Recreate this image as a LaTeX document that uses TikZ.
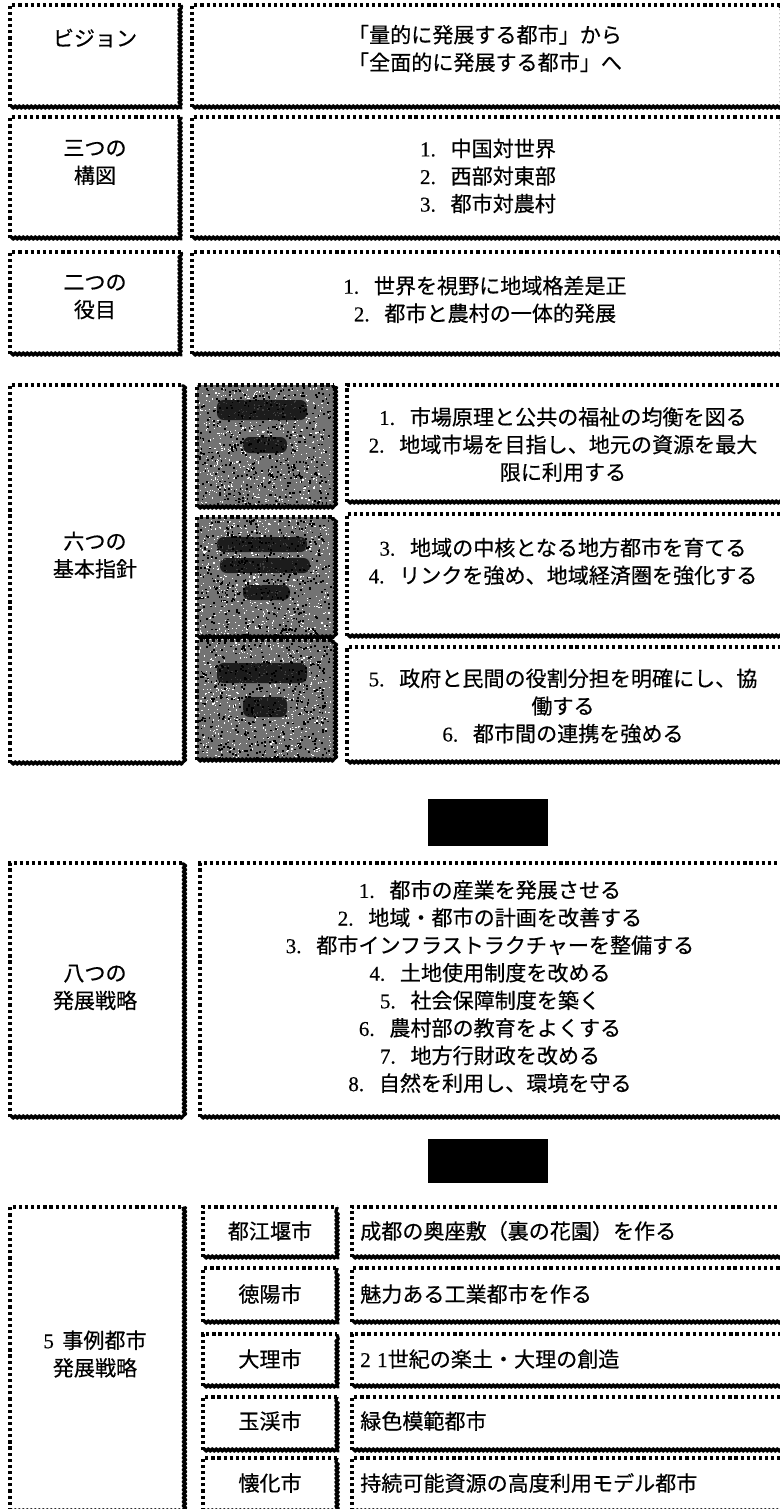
\documentclass[tikz,border=0pt]{standalone}
\usepackage{fontspec}
\setmainfont{Noto Sans CJK JP}[FakeBold=0.5]
\newfontfamily\tnr{Liberation Serif}[FakeBold=0.3]
\usetikzlibrary{fit,decorations.pathmorphing}
\newcommand\nm[1]{{\tnr #1}\hspace{0.7em}}
\tikzset{
 area/.style={inner sep=0pt, outer sep=0pt},
 dotedge/.style={line width=2.5pt, dash pattern=on 2.4pt off 2.2pt},
 heavyedge/.style={line width=2.4pt, decorate, decoration={snake, amplitude=0.9pt, segment length=3pt}, line join=round},
 lbl/.style={font=\fontsize{15.8}{20.7}\selectfont, align=center, inner sep=0pt},
 txl/.style={font=\fontsize{15.8}{20.7}\selectfont, anchor=west, inner sep=0pt},
 darkfill/.style={fill=black!55},
 blob/.style={fill=black, fill opacity=0.75, rounded corners=5pt},
 bar/.style={fill=black},
}
\newcommand\stamp[1]{%
  \draw[dotedge] (#1.south west) -- (#1.north west) -- (#1.north east);
  \draw[heavyedge] (#1.south west) -- (#1.south east) -- (#1.north east);}
\newcommand\region[5]{\node[area, fit={(#2,#3) (#4,#5)}] (#1) {};}
\begin{document}
\begin{tikzpicture}[x=0.75pt,y=-0.75pt]
\useasboundingbox (0,0) rectangle (780,1509);
\clip (0,0) rectangle (780,1509);
% ---------- row 1
\region{b1l}{10}{5}{181}{107}\stamp{b1l}
\region{b1r}{192}{5}{779.5}{107}\stamp{b1r}
\node[lbl] (t1l) at (95,38) {ビジョン};
\node[lbl] (t1r) at (485,48.5) {「量的に発展する都市」から\\「全面的に発展する都市」へ};
% ---------- row 2
\region{b2l}{10}{117}{181}{238}\stamp{b2l}
\region{b2r}{192}{117}{779.5}{238}\stamp{b2r}
\node[lbl] (t2l) at (95,162.5) {三つの\\構図};
\node[lbl] (t2r) at (488,176) {\nm{1.}中国対世界\\\nm{2.}西部対東部\\\nm{3.}都市対農村};
% ---------- row 3
\region{b3l}{10}{252}{181}{354}\stamp{b3l}
\region{b3r}{192}{252}{779.5}{354}\stamp{b3r}
\node[lbl] (t3l) at (95,297) {二つの\\役目};
\node[lbl] (t3r) at (485,299.5) {\nm{1.}世界を視野に地域格差是正\\\nm{2.}都市と農村の一体的発展};
% ---------- row 4
\region{b4l}{10}{385}{183}{763}\stamp{b4l}
\node[lbl] (t4l) at (95,555) {六つの\\基本指針};
\region{d1}{197}{385}{333}{507}
\region{d2}{197}{517}{333}{637}
\region{d3}{197}{640}{333}{760}
\foreach \d in {d1,d2,d3}{\fill[darkfill] (\d.south west) rectangle (\d.north east);}
\pgfmathsetseed{7}
\foreach \bx/\by/\bh in {197/385/122,197/517/120,197/640/120}{
  \foreach \i in {1,...,650}{
    \pgfmathsetmacro\rx{\bx+2+rnd*131}
    \pgfmathsetmacro\ry{\by+2+rnd*(\bh-4)}
    \fill[white] (\rx,\ry) rectangle +(1.2,1.2);
  }
  \foreach \i in {1,...,450}{
    \pgfmathsetmacro\rx{\bx+2+rnd*131}
    \pgfmathsetmacro\ry{\by+2+rnd*(\bh-4)}
    \fill[black] (\rx,\ry) rectangle +(1.8,1.8);
  }
}
\fill[blob] (217,400) rectangle (307,420);
\fill[blob] (243,437) rectangle (287,453);
\fill[blob] (217,537) rectangle (307,552);
\fill[blob] (220,558) rectangle (310,573);
\fill[blob] (243,585) rectangle (290,600);
\fill[blob] (217,663) rectangle (307,683);
\fill[blob] (243,697) rectangle (287,717);
\stamp{d1}\stamp{d2}\stamp{d3}
\region{b4a}{347}{385}{795}{502}\stamp{b4a}
\region{b4b}{347}{514}{795}{636}\stamp{b4b}
\region{b4c}{347}{647}{795}{762}\stamp{b4c}
\node[lbl] (t4a) at (563,444.5) {\nm{1.}市場原理と公共の福祉の均衡を図る\\\nm{2.}地域市場を目指し、地元の資源を最大\\限に利用する};
\node[lbl] (t4b) at (563,561.5) {\nm{3.}地域の中核となる地方都市を育てる\\\nm{4.}リンクを強め、地域経済圏を強化する};
\node[lbl] (t4c) at (563,706) {\nm{5.}政府と民間の役割分担を明確にし、協\\働する\\\nm{6.}都市間の連携を強める};
% ---------- bar 1
\node[area, bar, fit={(428,799) (548,846)}] (bar1) {};
% ---------- row 5
\region{b5l}{10}{863}{183}{1117}\stamp{b5l}
\region{b5r}{200}{863}{795}{1117}\stamp{b5r}
\node[lbl] (t5l) at (95,987.5) {八つの\\発展戦略};
\node[lbl] (t5r) at (490,986.5) {\nm{1.}都市の産業を発展させる\\\nm{2.}地域・都市の計画を改善する\\\nm{3.}都市インフラストラクチャーを整備する\\\nm{4.}土地使用制度を改める\\\nm{5.}社会保障制度を築く\\\nm{6.}農村部の教育をよくする\\\nm{7.}地方行財政を改める\\\nm{8.}自然を利用し、環境を守る};
% ---------- bar 2
\node[area, bar, fit={(428,1139) (548,1183)}] (bar2) {};
% ---------- row 6
\region{b6l}{10}{1207}{183}{1511}\stamp{b6l}
\node[lbl] (t6l) at (95,1354) {{\tnr 5}\hspace{0.4em}事例都市\\発展戦略};
\region{c1}{203}{1207}{337}{1257}\stamp{c1}
\region{c2}{203}{1268}{337}{1322}\stamp{c2}
\region{c3}{203}{1334}{337}{1386}\stamp{c3}
\region{c4}{203}{1397}{337}{1450}\stamp{c4}
\region{c5}{203}{1458}{337}{1511}\stamp{c5}
\region{e1}{352}{1207}{795}{1257}\stamp{e1}
\region{e2}{352}{1268}{795}{1322}\stamp{e2}
\region{e3}{352}{1334}{795}{1386}\stamp{e3}
\region{e4}{352}{1397}{795}{1450}\stamp{e4}
\region{e5}{352}{1458}{795}{1511}\stamp{e5}
\node[lbl] (s1) at (270,1231) {都江堰市};
\node[lbl] (s2) at (270,1294) {徳陽市};
\node[lbl] (s3) at (270,1359) {大理市};
\node[lbl] (s4) at (270,1421) {玉渓市};
\node[lbl] (s5) at (270,1483) {懐化市};
\node[txl] (r1) at (360,1231) {成都の奥座敷（裏の花園）を作る};
\node[txl] (r2) at (360,1294) {魅力ある工業都市を作る};
\node[txl] (r3) at (360,1359) {{\tnr 2\hspace{0.3em}1}世紀の楽土・大理の創造};
\node[txl] (r4) at (360,1421) {緑色模範都市};
\node[txl] (r5) at (360,1483) {持続可能資源の高度利用モデル都市};
\end{tikzpicture}
\end{document}
